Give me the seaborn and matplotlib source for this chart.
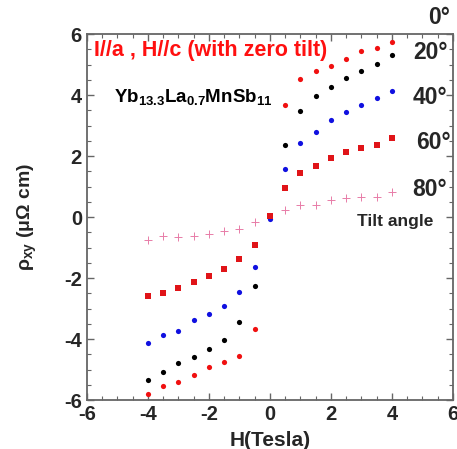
import numpy as np
import pandas as pd
import seaborn as sns
import matplotlib.pyplot as plt
from matplotlib.ticker import MultipleLocator

# ---------------- data ----------------
field = [-4, -3.5, -3, -2.5, -2, -1.5, -1, -0.5, 0.5, 1, 1.5, 2, 2.5, 3, 3.5, 4]

rho_0 = [-5.80, -5.53, -5.40, -5.18, -4.93, -4.75, -4.57, -3.66,
         3.66, 4.53, 4.78, 4.95, 5.17, 5.45, 5.56, 5.75]
rho_20 = [-5.33, -5.09, -4.78, -4.60, -4.32, -4.02, -3.45, -2.26,
          2.36, 3.49, 3.97, 4.27, 4.57, 4.80, 5.01, 5.32]
rho_40 = [-4.14, -3.87, -3.73, -3.38, -3.19, -2.91, -2.45, -1.65,
          1.58, 2.42, 2.80, 3.17, 3.45, 3.68, 3.90, 4.13]
rho_60 = [-2.58, -2.50, -2.34, -2.14, -1.92, -1.71, -1.39, -0.90,
          0.94, 1.44, 1.68, 1.94, 2.12, 2.25, 2.37, 2.58]
rho_80 = [-0.75, -0.62, -0.65, -0.62, -0.55, -0.46, -0.40, -0.17,
          0.23, 0.39, 0.39, 0.56, 0.61, 0.66, 0.66, 0.81]

# points sitting at zero field
zero_field = [0.0]
rho_40_zero = [-0.06]
rho_60_zero = [0.04]

angle_labels = ['0°', '20°', '40°', '60°', '80°']

# ---------------- style ----------------
sns.set_style("ticks")
plt.rcParams['font.family'] = ['Liberation Sans', 'DejaVu Sans']
plt.rcParams['font.weight'] = 'bold'
plt.rcParams['axes.unicode_minus'] = False
plt.rcParams['mathtext.fontset'] = 'custom'
plt.rcParams['mathtext.rm'] = 'Liberation Sans:bold'
plt.rcParams['mathtext.it'] = 'Liberation Sans:bold'
plt.rcParams['mathtext.bf'] = 'Liberation Sans:bold'

fig = plt.figure(figsize=(4.57, 4.49), dpi=100)
ax = fig.add_axes([0.190, 0.109, 0.801, 0.815])

red = '#f01010'
blue = '#1010e0'
pink = '#e87ca8'

def dots(y, color, marker='o', size=14, xs=field, **kw):
    sns.scatterplot(x=xs, y=y, color=color, marker=marker, s=size,
                    linewidth=0, ax=ax, legend=False, **kw)

dots(rho_0, red)
dots(rho_20, 'black')
dots(rho_40, blue)
dots(rho_40_zero, blue, xs=zero_field)
dots(rho_60, '#e01418', marker='s', size=18)
dots(rho_60_zero, '#e01418', marker='s', size=18, xs=zero_field)
sns.scatterplot(x=field, y=rho_80, color=pink, marker='+', s=36,
                linewidth=0.7, ax=ax, legend=False)

# ---------------- axes ----------------
ax.set_xlim(-6, 6)
ax.set_ylim(-6, 6)
ax.xaxis.set_major_locator(MultipleLocator(2))
ax.yaxis.set_major_locator(MultipleLocator(2))
ax.xaxis.set_minor_locator(MultipleLocator(0.5))
ax.yaxis.set_minor_locator(MultipleLocator(0.5))
ax.tick_params(which='both', direction='in', top=True, right=True,
               color='#666666', labelsize=14.5)
ax.tick_params(which='major', length=5, width=1)
ax.tick_params(which='minor', length=3, width=0.8)
for sp in ax.spines.values():
    sp.set_color('#666666')
    sp.set_linewidth(1.3)

ax.set_xlabel('H(Tesla)', fontsize=15, fontweight='bold', labelpad=5)
ax.set_ylabel(r'$\rho_{xy}$ ($\mu\Omega$ cm)', fontsize=14, fontweight='bold', labelpad=18)

# ---------------- annotations ----------------
ax.text(-5.75, 5.45, 'I//a , H//c (with zero tilt)', color='#ff1010',
        fontsize=15.5, fontweight='bold', va='center', ha='left')
ax.text(-5.1, 3.95, r'Yb$_{13.3}$La$_{0.7}$MnSb$_{11}$', color='black',
        fontsize=13.5, fontweight='bold', va='center', ha='left')

label_pos = [(5.55, 6.55), (5.25, 5.41), (5.25, 3.93), (5.35, 2.43), (5.25, 0.89)]
for lab, (xx, yy) in zip(angle_labels, label_pos):
    ax.text(xx, yy, lab, fontsize=16.5, fontweight='bold', ha='center',
            va='center', clip_on=False)
ax.text(4.1, -0.16, 'Tilt angle', fontsize=12.5, fontweight='bold',
        ha='center', va='center')

fig.savefig('out.png', dpi=100)
